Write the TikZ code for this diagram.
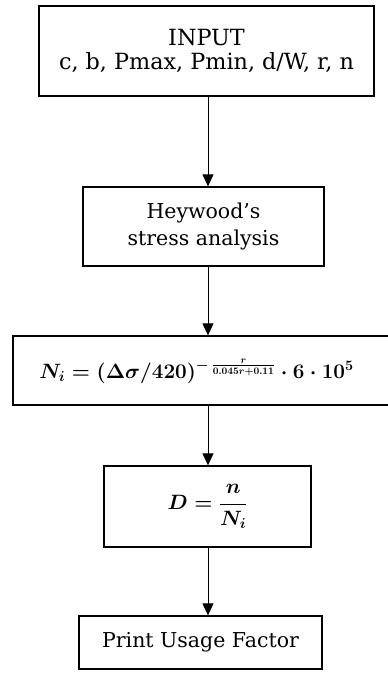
\documentclass[tikz,border=0pt]{standalone}
\usepackage{fontspec}
\setmainfont{DejaVu Serif}
\usetikzlibrary{arrows.meta}
\begin{document}
\begin{tikzpicture}[x=1pt,y=-1pt,
  box/.style={draw=black, line width=1.3pt, rectangle, inner sep=0pt, align=center,
    font=\fontsize{20.5}{25}\selectfont},
  arr/.style={draw=black, line width=1pt, -{Triangle[width=11pt,length=12pt]}}]
\clip (0,0) rectangle (388,673);
\fill[white] (0,0) rectangle (388,673);
\coordinate (ax) at (208,0);
\node[box, minimum width=335pt, minimum height=90pt, font=\fontsize{22.3}{24.5}\selectfont] (b1) at (206.5,51) {INPUT\\c, b, Pmax, Pmin, d/W, r, n};
\node[box, minimum width=241pt, minimum height=79pt, font=\fontsize{20.5}{27}\selectfont] (b2) at (203.5,226.5) {Heywood’s\\stress analysis};
\node[box, minimum width=379pt, minimum height=69pt] (f) at (202.5,370.5) {};
\node[font=\fontsize{19.3}{23}\selectfont\boldmath, inner sep=0pt] (ft) at (196.5,371)
  {$N_i=(\Delta\sigma/420)^{-\,\frac{r}{0.045r+0.11}}\cdot 6\cdot 10^5$};
\node[box, minimum width=207pt, minimum height=81pt, font=\fontsize{20.5}{25}\selectfont\boldmath] (d) at (207.5,506.5) {$\displaystyle D=\frac{n}{N_i}$};
\node[box, minimum width=243pt, minimum height=53pt] (p) at (200.5,642.5) {Print Usage Factor};
\draw[arr] (b1.south -| ax) -- (b2.north -| ax);
\draw[arr] (b2.south -| ax) -- (f.north -| ax);
\draw[arr] (f.south -| ax) -- (d.north -| ax);
\draw[arr] (d.south -| ax) -- (p.north -| ax);
\end{tikzpicture}
\end{document}
